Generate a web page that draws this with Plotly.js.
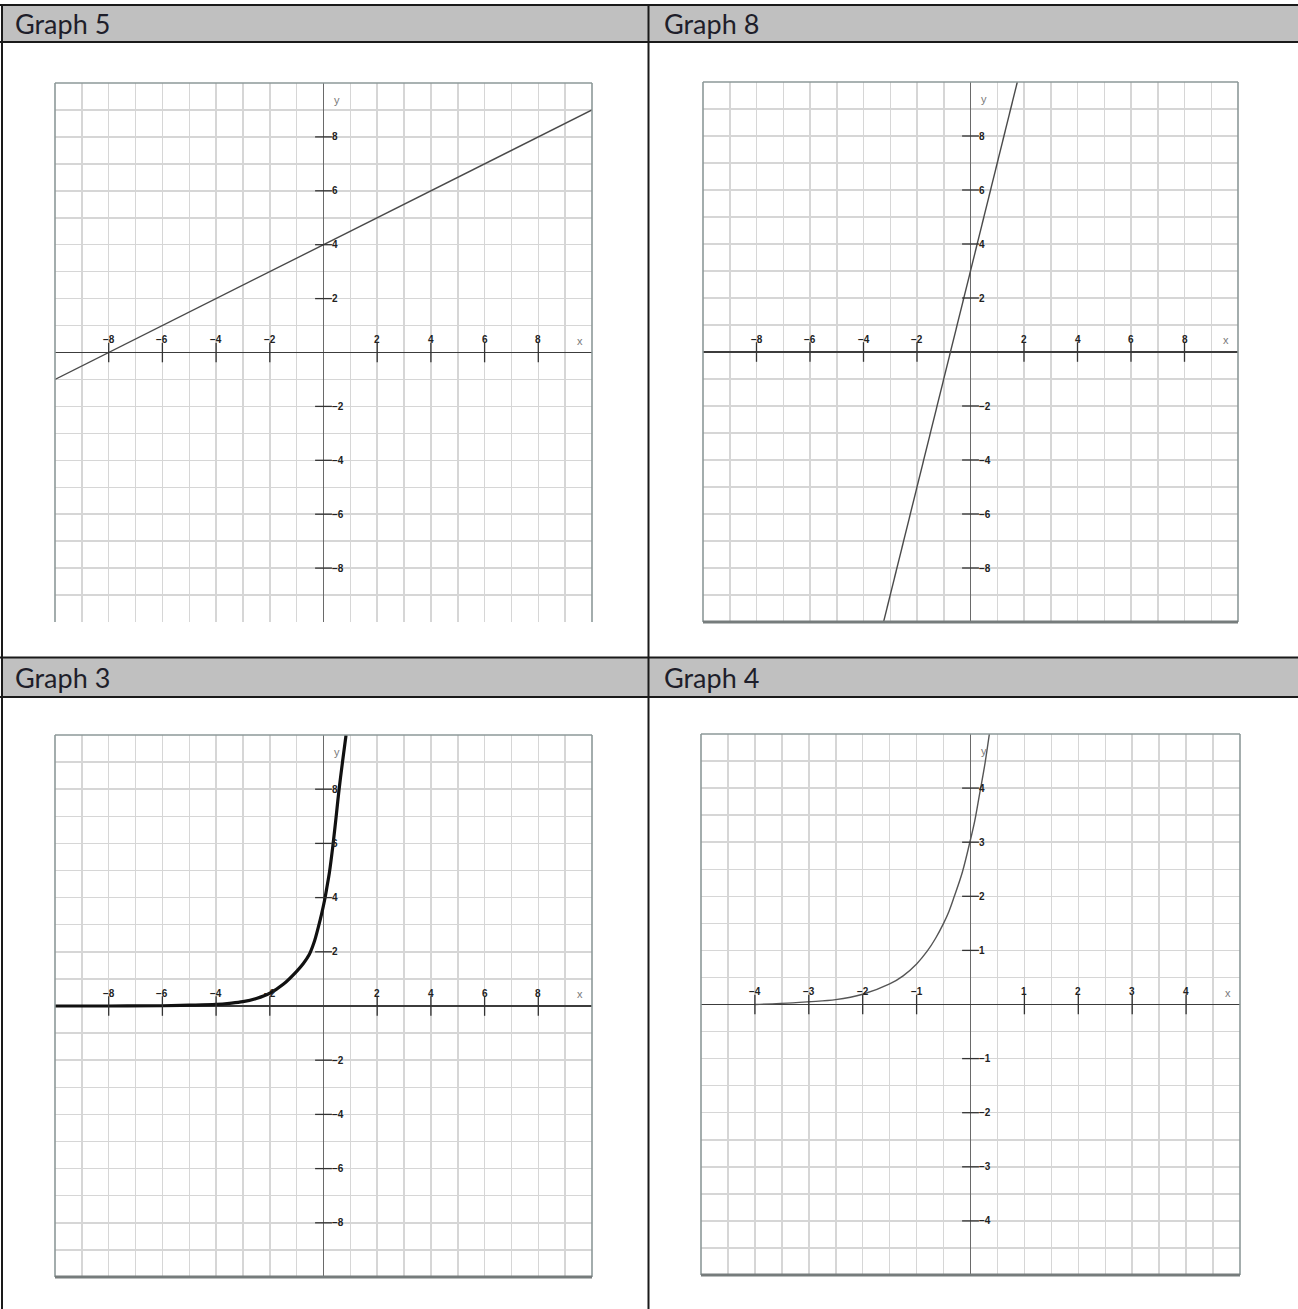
<!DOCTYPE html>
<html>
<head>
<meta charset="utf-8">
<script src="https://cdn.plot.ly/plotly-3.0.1.min.js"></script>
<style>
  html, body { margin: 0; padding: 0; background: #ffffff; }
  #chart { width: 1298px; height: 1309px; }
</style>
</head>
<body>
<div id="chart"></div>
<script>
// Graph 5: straight line crossing the x axis at -8 and the y axis at 4
const g5X = [-10, 10];
const g5Y = [-1, 9];

// Graph 8: steep straight line crossing the y axis at 3
const g8X = [-3.25, 1.75];
const g8Y = [-10, 10];

// Graph 3: growth curve drawn with a heavy stroke
const g3X = [-10, -8, -6, -5, -4, -3.5, -3, -2.5, -2, -1.5, -1, -0.75, -0.53, -0.35, -0.19, -0.07, 0.04, 0.13, 0.22, 0.35, 0.47, 0.58, 0.71, 0.84];
const g3Y = [0, 0, 0.01, 0.03, 0.06, 0.1, 0.16, 0.28, 0.47, 0.8, 1.28, 1.57, 1.9, 2.35, 2.92, 3.4, 3.9, 4.4, 4.93, 5.92, 6.98, 7.99, 9.02, 10];

// Graph 4: growth curve on the half-unit grid
const g4X = [-4, -3.3, -3, -2.5, -2, -1.5, -1.25, -1, -0.8, -0.65, -0.5, -0.4, -0.3, -0.15, 0, 0.08, 0.17, 0.26, 0.35];
const g4Y = [0, 0.03, 0.05, 0.09, 0.19, 0.38, 0.53, 0.75, 0.99, 1.22, 1.5, 1.72, 2.0, 2.45, 3.05, 3.4, 3.9, 4.4, 5.0];

// Tick values and their labels
const wideTicks = [-8, -6, -4, -2, 2, 4, 6, 8];
const wideTickText = ['\u22128', '\u22126', '\u22124', '\u22122', '2', '4', '6', '8'];
const narrowTicks = [-4, -3, -2, -1, 1, 2, 3, 4];
const narrowTickText = ['\u22124', '\u22123', '\u22122', '\u22121', '1', '2', '3', '4'];

const panelTitles = ['Graph 5', 'Graph 8', 'Graph 3', 'Graph 4'];

// ---- page geometry (pixels) ----
const W = 1298, H = 1309;
const fx = p => p / W;
const fy = p => 1 - p / H;

const panels = [
  { sfx: '',  box: [55, 592, 83, 622],    lim: 10, step: 1,   ticks: wideTicks,   text: wideTickText,   xs: g5X, ys: g5Y, color: '#4a4a4a', width: 1.4, bottomEdge: false },
  { sfx: '2', box: [703, 1238, 82, 622],  lim: 10, step: 1,   ticks: wideTicks,   text: wideTickText,   xs: g8X, ys: g8Y, color: '#4a4a4a', width: 1.4, bottomEdge: true },
  { sfx: '3', box: [55, 592, 735, 1277],  lim: 10, step: 1,   ticks: wideTicks,   text: wideTickText,   xs: g3X, ys: g3Y, color: '#111111', width: 3.2, bottomEdge: true },
  { sfx: '4', box: [701, 1240, 734, 1275], lim: 5, step: 0.5, ticks: narrowTicks, text: narrowTickText, xs: g4X, ys: g4Y, color: '#555555', width: 1.4, bottomEdge: true }
];

const layout = {
  width: W,
  height: H,
  margin: { l: 0, r: 0, t: 0, b: 0, pad: 0 },
  paper_bgcolor: '#ffffff',
  plot_bgcolor: '#ffffff',
  showlegend: false,
  shapes: [],
  annotations: []
};
const traces = [];

const tickFont = { family: 'Liberation Sans, Arial, sans-serif', size: 10, color: '#222222', weight: 'bold' };
const nameFont = { family: 'Liberation Sans, Arial, sans-serif', size: 11, color: '#7a7a7a' };

panels.forEach(p => {
  const xa = 'x' + p.sfx, ya = 'y' + p.sfx;
  const [l, r, t, b] = p.box;
  const axisBase = {
    range: [-p.lim, p.lim],
    tick0: 0,
    dtick: p.step,
    showgrid: true,
    gridcolor: '#d6d6d6',
    gridwidth: 1.5,
    zeroline: true,
    showticklabels: false,
    ticks: '',
    showline: false,
    fixedrange: true
  };
  layout['xaxis' + p.sfx] = Object.assign({}, axisBase, {
    domain: [fx(l), fx(r)], anchor: ya, zerolinecolor: '#6a6a6a', zerolinewidth: 1.6
  });
  layout['yaxis' + p.sfx] = Object.assign({}, axisBase, {
    domain: [fy(b), fy(t)], anchor: xa, zerolinecolor: '#3c3c3c', zerolinewidth: 1.6
  });

  // the plotted line / curve
  traces.push({
    x: p.xs, y: p.ys, xaxis: xa, yaxis: ya, type: 'scatter', mode: 'lines',
    line: { color: p.color, width: p.width, shape: 'spline', smoothing: 1 },
    hoverinfo: 'skip', cliponaxis: true
  });

  // tick marks crossing the x axis
  traces.push({
    x: p.ticks, y: p.ticks.map(() => 0), xaxis: xa, yaxis: ya, type: 'scatter', mode: 'markers',
    marker: { symbol: 'line-ns-open', size: 14, color: '#333333', line: { width: 1.3, color: '#333333' } },
    hoverinfo: 'skip', cliponaxis: false
  });
  // tick marks crossing the y axis
  traces.push({
    x: p.ticks.map(() => 0), y: p.ticks, xaxis: xa, yaxis: ya, type: 'scatter', mode: 'markers',
    marker: { symbol: 'line-ew-open', size: 12, color: '#333333', line: { width: 1.3, color: '#333333' } },
    hoverinfo: 'skip', cliponaxis: false
  });

  // tick labels
  p.ticks.forEach((v, i) => {
    layout.annotations.push({
      xref: xa, yref: ya, x: v, y: 0, text: p.text[i], showarrow: false,
      xanchor: 'center', yanchor: 'middle', yshift: 13, font: tickFont
    });
    layout.annotations.push({
      xref: xa, yref: ya, x: 0, y: v, text: p.text[i], showarrow: false,
      xanchor: 'left', yanchor: 'middle', xshift: 6, font: tickFont
    });
  });
  // axis names
  layout.annotations.push({
    xref: xa, yref: ya, x: p.lim * 0.955, y: 0, text: 'x', showarrow: false,
    xanchor: 'center', yanchor: 'middle', yshift: 12, font: nameFont
  });
  layout.annotations.push({
    xref: xa + ' domain', yref: ya + ' domain', x: 0.5, y: 0.968, text: 'y', showarrow: false,
    xanchor: 'center', yanchor: 'middle', xshift: 13, font: nameFont
  });

  // frame around the plot
  const dx = xa + ' domain', dy = ya + ' domain';
  const edge = { color: '#8d9999', width: 1.6 };
  layout.shapes.push({ type: 'line', xref: dx, yref: dy, x0: 0, x1: 0, y0: 0, y1: 1, line: edge, layer: 'above' });
  layout.shapes.push({ type: 'line', xref: dx, yref: dy, x0: 1, x1: 1, y0: 0, y1: 1, line: edge, layer: 'above' });
  layout.shapes.push({ type: 'line', xref: dx, yref: dy, x0: 0, x1: 1, y0: 1, y1: 1, line: edge, layer: 'above' });
  if (p.bottomEdge) {
    layout.shapes.push({ type: 'line', xref: dx, yref: dy, x0: 0, x1: 1, y0: 0, y1: 0,
      line: { color: '#767c7c', width: 3.2 }, layer: 'above' });
  }
});

// ---- table: header bands, rules and titles ----
const headerBands = [[5, 42], [657.5, 697]];
headerBands.forEach(([t, b]) => {
  layout.shapes.push({ type: 'rect', xref: 'paper', yref: 'paper', x0: fx(2), x1: 1, y0: fy(b), y1: fy(t),
    fillcolor: '#c0c0c0', line: { width: 0 }, layer: 'below' });
});
const rule = { color: '#1a1a1a', width: 2 };
[5, 42, 657.5, 697].forEach(y => {
  layout.shapes.push({ type: 'line', xref: 'paper', yref: 'paper', x0: 0, x1: 1, y0: fy(y), y1: fy(y), line: rule, layer: 'above' });
});
[2, 648.5].forEach(x => {
  layout.shapes.push({ type: 'line', xref: 'paper', yref: 'paper', x0: fx(x), x1: fx(x), y0: 0, y1: fy(5), line: rule, layer: 'above' });
});

const titlePos = [[13, 23.5], [662, 23.5], [13, 677], [662, 677]];
panelTitles.forEach((txt, i) => {
  layout.annotations.push({
    xref: 'paper', yref: 'paper', x: fx(titlePos[i][0]), y: fy(titlePos[i][1]), text: txt, showarrow: false,
    xanchor: 'left', yanchor: 'middle',
    font: { family: 'Lato, Liberation Sans, sans-serif', size: 27, color: '#1e1e2a' }
  });
});

Plotly.newPlot('chart', traces, layout, { staticPlot: true, displayModeBar: false });
</script>
</body>
</html>
